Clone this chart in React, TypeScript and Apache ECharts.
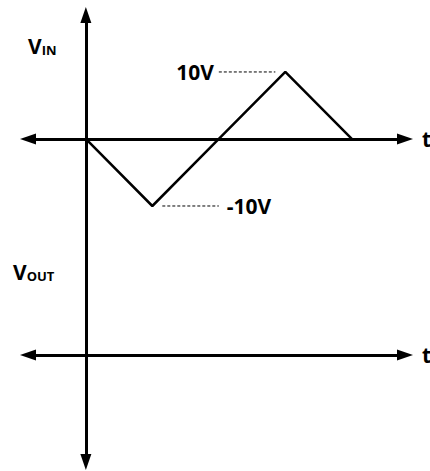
import React, { useEffect, useRef } from 'react';
import * as echarts from 'echarts';

// waveform of V_IN (time in quarter periods, volts)
const timeUnits = [0, 1, 2, 3, 4];
const vinVolts = [0, -10, 0, 10, 0];
// dashed level leaders (time extents) and their levels
const peakLeaderT = [2.0, 2.85];
const troughLeaderT = [1.15, 2.0];
const peakVolts = 10;
const troughVolts = -10;
const levelLabels = ['10V', '-10V'];
const timeAxisName = 't';
const inputLabel = ['V', 'IN'];
const outputLabel = ['V', 'OUT'];
// visible axis extents
const xRange = [-0.87, 4.8];
const yRange = [-48.2, 18.5];

export default function App() {
  const ref = useRef<HTMLDivElement>(null);
  useEffect(() => {
    document.body.style.margin = '0';
    const chart = echarts.init(ref.current!, null, { renderer: 'svg' });
    const font = 'Open Sans';
    const black = '#000';
    const arrowLine = (onZero: boolean) => ({
      show: true,
      onZero,
      symbol: ['triangle', 'triangle'],
      symbolSize: [11, 16],
      lineStyle: { color: black, width: 3 },
    });
    const nameStyle = {
      fontFamily: font,
      fontWeight: 'bold',
      fontSize: 21,
      color: black,
      align: 'left',
      verticalAlign: 'middle',
    };
    const hidden = {
      axisTick: { show: false },
      axisLabel: { show: false },
      splitLine: { show: false },
    };
    const richLabel = (parts: string[]) => ({
      text: `{v|${parts[0]}}{s|${parts[1]}}`,
      fill: black,
      verticalAlign: 'top',
      rich: {
        v: { fontFamily: font, fontWeight: 'bold', fontSize: 21, fill: black, verticalAlign: 'bottom' },
        s: { fontFamily: font, fontWeight: 'bold', fontSize: 13, lineHeight: 11, fill: black, verticalAlign: 'bottom' },
      },
    });
    const levelLabelStyle = {
      show: true,
      fontFamily: font,
      fontWeight: 'bold',
      fontSize: 21,
      color: black,
      opacity: 1,
      textBorderWidth: 0,
    };
    chart.setOption({
      animation: false,
      grid: { left: 28, right: 25, top: 15, bottom: 9, containLabel: false, outerBoundsMode: 'none' },
      xAxis: [
        {
          type: 'value',
          position: 'top',
          min: xRange[0],
          max: xRange[1],
          axisLine: arrowLine(true),
          name: timeAxisName,
          nameLocation: 'end',
          nameGap: 17,
          nameTextStyle: nameStyle,
          ...hidden,
        },
        {
          type: 'value',
          position: 'bottom',
          offset: -107,
          min: xRange[0],
          max: xRange[1],
          axisLine: arrowLine(false),
          name: timeAxisName,
          nameLocation: 'end',
          nameGap: 17,
          nameTextStyle: nameStyle,
          ...hidden,
        },
      ],
      yAxis: {
        type: 'value',
        min: yRange[0],
        max: yRange[1],
        axisLine: { ...arrowLine(true), onZeroAxisIndex: 0 },
        ...hidden,
      },
      graphic: [
        { type: 'text', x: 28, y: 35, style: richLabel(inputLabel) },
        { type: 'text', x: 13, y: 261, style: richLabel(outputLabel) },
      ],
      series: [
        {
          type: 'line',
          xAxisIndex: 0,
          data: timeUnits.map((t, i) => [t, vinVolts[i]]),
          showSymbol: false,
          lineStyle: { color: black, width: 2.5 },
          z: 3,
        },
        {
          type: 'line',
          data: peakLeaderT.map((t) => [t, peakVolts]),
          showSymbol: false,
          lineStyle: { color: black, width: 1, type: [3, 2] },
        },
        {
          type: 'line',
          data: troughLeaderT.map((t) => [t, troughVolts]),
          showSymbol: false,
          lineStyle: { color: black, width: 1, type: [3, 2] },
        },
        {
          type: 'scatter',
          symbolSize: 0,
          z: 5,
          itemStyle: { color: black },
          label: levelLabelStyle,
          data: [
            {
              value: [peakLeaderT[0], peakVolts],
              label: { ...levelLabelStyle, position: 'left', distance: 5, formatter: levelLabels[0] },
            },
            {
              value: [troughLeaderT[1], troughVolts],
              label: { ...levelLabelStyle, position: 'right', distance: 8, formatter: levelLabels[1] },
            },
          ],
        },
      ],
    });
    return () => chart.dispose();
  }, []);
  return <div ref={ref} style={{ width: 430, height: 471 }} />;
}
